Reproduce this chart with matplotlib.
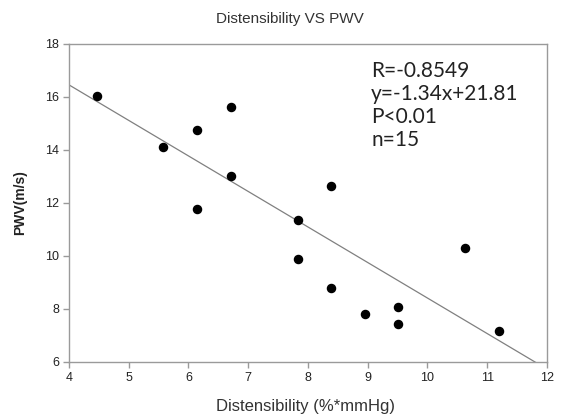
import numpy as np
import matplotlib
matplotlib.use("Agg")
import matplotlib.pyplot as plt

# data
distensibility = [4.47, 5.58, 6.15, 6.71, 6.71, 6.15, 7.83, 7.83, 8.39, 8.39, 8.95, 9.51, 9.51, 10.63, 11.19]
pwv = [16.04, 14.11, 14.74, 15.61, 13.03, 11.77, 11.37, 9.89, 12.65, 8.78, 7.81, 8.09, 7.43, 10.28, 7.16]

# regression line from the annotation
slope = -1.34
intercept = 21.81
stats_lines = ["R=-0.8549", "y=-1.34x+21.81", "P<0.01", "n=15"]

plt.rcParams['font.family'] = ['Liberation Sans', 'DejaVu Sans']

fig = plt.figure(figsize=(5.61, 4.17), dpi=100)
ax = fig.add_axes([0.123, 0.132, 0.852, 0.763])

#fit line, clipped by the axes
x_line = np.array([4, 12])
ax.plot(x_line, slope * x_line + intercept, color='#808080', linewidth=0.9, zorder=2)
ax.scatter(distensibility, pwv, s=34, color='black', zorder=3)

ax.set_xlim(4, 12)
ax.set_ylim(6, 18)
ax.set_xticks(range(4, 13))
ax.set_yticks(range(6, 19, 2))

for sp in ax.spines.values():
    sp.set_color('#9a9a9a')
    sp.set_linewidth(1.0)
ax.tick_params(direction='out', length=4, width=1.0, color='#9a9a9a',
               labelsize=9, labelcolor='#222222', pad=3)

ax.set_ylabel("PWV(m/s)", fontsize=10, fontweight='bold', color='#222222', labelpad=13)

fig.text(0.517, 0.955, "Distensibility VS PWV", ha='center', va='center',
         fontsize=11, color='#333333')
fig.text(0.544, 0.024, "Distensibility (%*mmHg)", ha='center', va='center',
         fontsize=12, color='#333333')

ax.text(0.632, 0.947, "\n".join(stats_lines), transform=ax.transAxes,
        ha='left', va='top', fontsize=15, linespacing=1.2,
        family=['Lato', 'DejaVu Sans'], color='#222222')

fig.savefig("out.png", dpi=100)
